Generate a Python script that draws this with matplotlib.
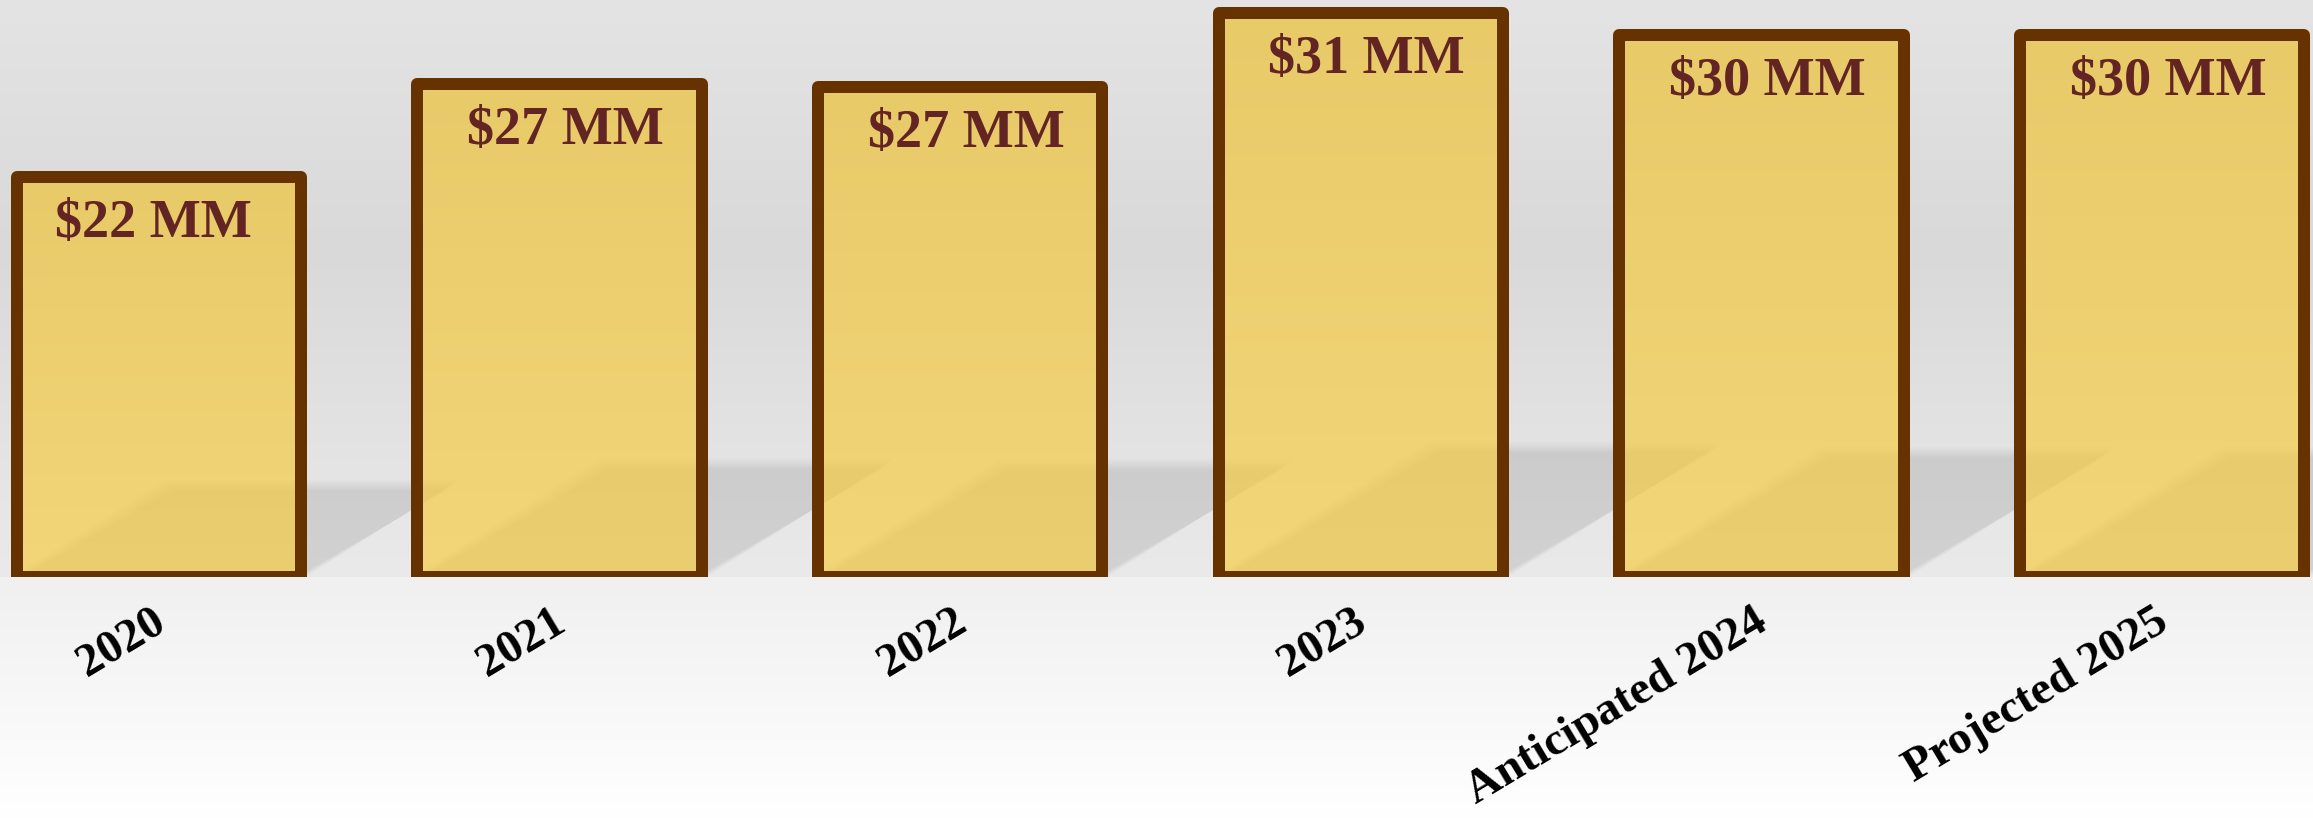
import numpy as np
import matplotlib
matplotlib.use("Agg")
import matplotlib.pyplot as plt
from matplotlib.colors import LinearSegmentedColormap
from matplotlib.patches import Polygon
from matplotlib.transforms import ScaledTranslation

# chart data
categories = ["2020", "2021", "2022", "2023", "Anticipated 2024", "Projected 2025"]
values = [22.0, 27.1, 26.9, 31.0, 29.8, 29.8]
value_labels = ["$22 MM", "$27 MM", "$27 MM", "$31 MM", "$30 MM", "$30 MM"]

W, H, DPI = 2313, 818, 100
fig = plt.figure(figsize=(W / DPI, H / DPI), dpi=DPI)

# --- background: grey wall + light floor ---
bg = fig.add_axes([0, 0, 1, 1], zorder=-5)
rows = np.arange(H)
wall = np.interp(rows, [0, 250, 577], [0xe4, 0xd9, 0xea])
floor = np.interp(rows, [577, 818], [0xf0, 0xff])
grey = np.where(rows < 577, wall, floor) / 255.0
img = np.repeat(grey[:, None, None], 3, axis=2)
bg.imshow(img, extent=[0, 1, 0, 1], aspect="auto", interpolation="bilinear")
bg.set_axis_off()

# --- main axes ---
px_x = 400.6   # pixels per category
px_y = 18.2    # pixels per unit
x0_px = 159
base_px = 241
ax = fig.add_axes([0, base_px / H, 1, 1 - base_px / H])
ax.patch.set_visible(False)

x = np.arange(len(values))
bar_w = 0.71
bars = ax.bar(x, values, width=bar_w, facecolor="none", edgecolor="#663300",
              linewidth=12 * 72 / DPI, zorder=4)
for b in bars:
    b.set_joinstyle("round")

# gradient fill of each bar
fill_cmap = LinearSegmentedColormap.from_list("gold", ["#f2d678", "#e9ca69"])
grad = np.linspace(0, 1, 256)[:, None]
for b in bars:
    bx, bw, bh = b.get_x(), b.get_width(), b.get_height()
    ax.imshow(grad, extent=[bx, bx + bw, 0, bh], origin="lower", cmap=fill_cmap,
              aspect="auto", zorder=2, interpolation="bilinear")

# soft skewed shadows behind the bars
def draw_shadow(b, alpha, z):
    bx, bw, bh = b.get_x(), b.get_width(), b.get_height()
    sh = 0.23 * bh
    shift = 1.65 * sh * px_y / px_x
    steps = 8
    for k in range(steps):
        d = (k - (steps - 1) / 2) * 1.5
        dx, dy = d / px_x, d / px_y
        pts = [(bx - dx, 0), (bx + bw + dx, 0),
               (bx + bw + shift + dx, sh + dy), (bx + shift - dx, sh + dy)]
        ax.add_patch(Polygon(pts, closed=True, facecolor="black", edgecolor="none",
                             alpha=alpha / steps, zorder=z))

for b in bars:
    draw_shadow(b, 0.05, 1)
    draw_shadow(b, 0.045, 3)

# value labels inside bars
label_dx = [-6, 6, 6, 6, 6, 6]
for b, txt, dx in zip(bars, value_labels, label_dx):
    ax.annotate(txt, (b.get_x() + b.get_width() / 2, b.get_height()),
                xytext=(dx, -60), textcoords="offset pixels",
                ha="center", va="baseline", fontsize=39, fontweight="bold",
                family="Liberation Serif", color="#632523", zorder=6)

ax.set_xlim(-x0_px / px_x, (W - x0_px) / px_x)
ax.set_ylim(0, (H - base_px) / px_y)
ax.set_xticks(x)
ax.set_xticklabels(categories, rotation=31, ha="right", rotation_mode="anchor",
                   fontsize=34, fontweight="bold", family="Liberation Serif")
ax.tick_params(axis="x", length=0, pad=17)
shift_lbl = ScaledTranslation(-8 / DPI, 0, fig.dpi_scale_trans)
for lbl in ax.get_xticklabels():
    lbl.set_transform(lbl.get_transform() + shift_lbl)
ax.set_yticks([])
for s in ax.spines.values():
    s.set_visible(False)

fig.savefig("out.png", dpi=DPI)
